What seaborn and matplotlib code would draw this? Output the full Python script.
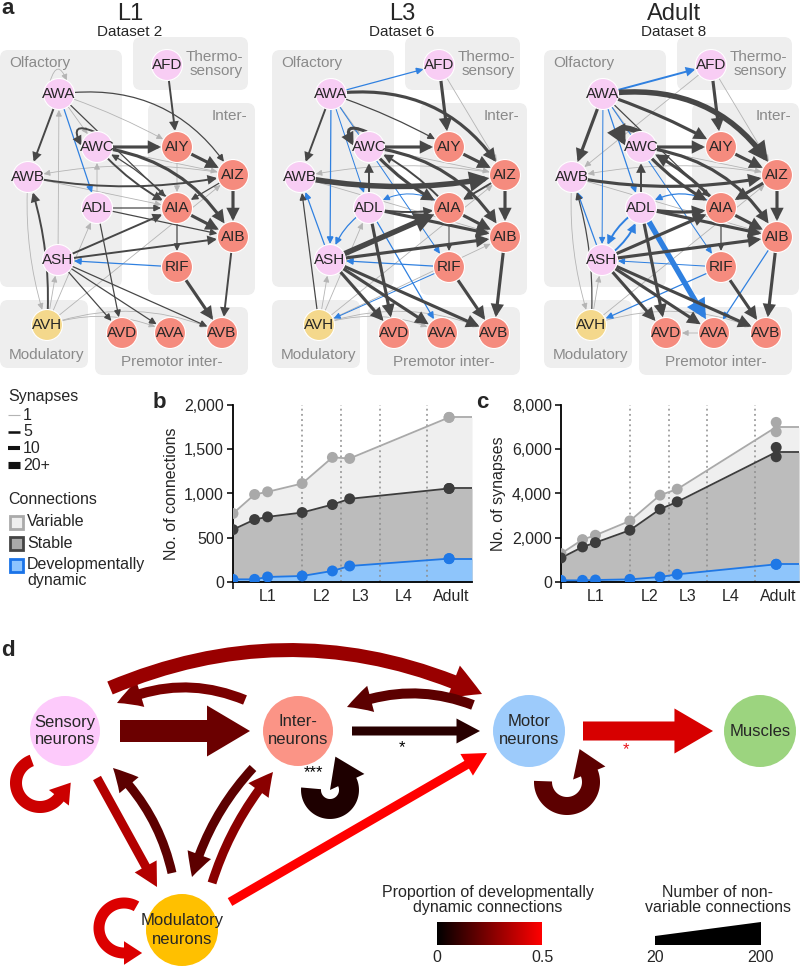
import numpy as np
import pandas as pd
import matplotlib
matplotlib.use("Agg")
import matplotlib.pyplot as plt
import seaborn as sns
from matplotlib.patches import FancyBboxPatch, Circle, FancyArrowPatch, Polygon, Rectangle
from matplotlib.colors import LinearSegmentedColormap, Normalize
from matplotlib.ticker import FuncFormatter

sns.set_theme(style="ticks")
plt.rcParams["font.family"] = ["Liberation Sans", "DejaVu Sans"]

# ======================= DATA =======================
# ---- panels b, c : datasets 1-8 (age in hours after birth) ----
DATASET_AGE_H = [0, 5, 8, 16, 23, 27, 50, 50]
CONN_VARIABLE = [774, 989, 1019, 1113, 1408, 1396, 1860, 1860]
CONN_STABLE = [592, 706, 736, 785, 875, 940, 1057, 1057]
CONN_DYNAMIC = [30, 30, 57, 68, 125, 181, 264, 264]
SYN_VARIABLE = [1283, 1917, 2113, 2762, 3925, 4196, 7215, 6792]
SYN_STABLE = [1087, 1585, 1781, 2340, 3291, 3623, 6083, 5660]
SYN_DYNAMIC = [75, 75, 90, 120, 226, 347, 800, 800]
STAGE_BOUNDARIES_H = [16, 25, 34, 45]
STAGE_LABELS = ["L1", "L2", "L3", "L4", "Adult"]
STAGE_LABEL_AT_H = [8, 20.5, 29.5, 39.5, 50.5]
X_END_H = 55.3

# ---- panel a ----
PANEL_A_TITLES = ["L1", "L3", "Adult"]
PANEL_A_DATASETS = ["Dataset 2", "Dataset 6", "Dataset 8"]
NEURONS = ["AFD", "AWA", "AWC", "AWB", "ADL", "ASH", "AIY", "AIZ", "AIA",
           "AIB", "RIF", "AVH", "AVD", "AVA", "AVB"]
NEURON_CLASS = {"AFD": "sens", "AWA": "sens", "AWC": "sens", "AWB": "sens",
                "ADL": "sens", "ASH": "sens", "AIY": "inter", "AIZ": "inter",
                "AIA": "inter", "AIB": "inter", "RIF": "inter", "AVH": "mod",
                "AVD": "inter", "AVA": "inter", "AVB": "inter"}
GROUP_NAMES = ["Olfactory", "Thermo-\nsensory", "Inter-", "Modulatory", "Premotor inter-"]
SYNAPSE_LEGEND = [1, 5, 10, 20]
SYNAPSE_LEGEND_TEXT = ["1", "5", "10", "20+"]
CONNECTION_TYPES = ["Variable", "Stable", "Developmentally\ndynamic"]

# (pre, post, synapses, class)  class: v=variable, s=stable, d=developmentally dynamic
EDGES_L1 = [
    ("AFD", "AIY", 5, "s"), ("AWA", "AWA", 1, "v"), ("AWA", "AWB", 5, "s"),
    ("AWA", "AWC", 1, "v"), ("AWA", "ADL", 2, "d"), ("AWA", "AIY", 1, "v"),
    ("AWA", "AIZ", 2, "s"), ("AWA", "AIA", 2, "s"), ("AWC", "AWC", 5, "s"),
    ("AWC", "AIY", 10, "s"), ("AWC", "AIZ", 1, "v"), ("AWC", "AIA", 5, "s"),
    ("AIA", "AWC", 2, "s"), ("AWC", "AIB", 10, "s"), ("ADL", "AWC", 1, "v"),
    ("AWB", "AIZ", 5, "s"), ("AIZ", "AWB", 1, "v"), ("AWB", "AIA", 1, "v"),
    ("AIY", "AIZ", 10, "s"), ("AIY", "AIA", 1, "v"), ("AIZ", "AIB", 10, "s"),
    ("AIZ", "AIA", 2, "s"), ("ADL", "AIA", 2, "s"), ("ADL", "AIB", 2, "s"),
    ("ADL", "AVD", 2, "s"), ("AIA", "AIB", 10, "s"), ("AIA", "RIF", 2, "s"),
    ("ASH", "AWA", 1, "v"), ("ASH", "AIA", 5, "s"), ("ASH", "AIB", 5, "s"),
    ("RIF", "ASH", 2, "d"), ("RIF", "AVB", 10, "s"), ("AIB", "AVB", 5, "s"),
    ("ASH", "AVD", 2, "s"), ("ASH", "AVA", 2, "s"), ("ASH", "AVB", 2, "s"),
    ("AVH", "AWB", 5, "s"), ("AWB", "AVH", 1, "v"), ("AVH", "ASH", 1, "v"),
    ("AVH", "ADL", 1, "v"), ("AVH", "AIZ", 1, "v"), ("AVH", "AVA", 1, "v"),
    ("AVH", "AVB", 1, "v"),
]
EDGES_L3 = [
    ("AWA", "AFD", 2, "d"), ("AFD", "AIY", 10, "s"), ("AFD", "AIZ", 1, "v"),
    ("AWA", "AWB", 5, "s"), ("AWA", "AWC", 1, "v"), ("AWA", "ADL", 1, "d"),
    ("AWA", "ASH", 2, "d"), ("AWA", "RIF", 1, "d"), ("AWA", "AIY", 2, "s"),
    ("AWA", "AIZ", 10, "s"), ("AWC", "AWC", 10, "s"), ("AWC", "AIY", 10, "s"),
    ("AWC", "AIZ", 1, "v"), ("AWC", "AIA", 10, "s"), ("AIA", "AWC", 5, "s"),
    ("AWC", "AIB", 10, "s"), ("ADL", "AWC", 5, "s"), ("AWB", "AIZ", 20, "s"),
    ("AIZ", "AWB", 1, "v"), ("AWB", "AIB", 1, "v"), ("AIY", "AIZ", 10, "s"),
    ("AIZ", "AIB", 10, "s"), ("AIZ", "AIA", 5, "s"), ("ADL", "AIA", 5, "s"),
    ("AIA", "ADL", 1, "d"), ("ADL", "AIB", 10, "s"), ("ADL", "AVD", 10, "s"),
    ("ADL", "AVA", 2, "d"), ("ADL", "ASH", 2, "d"), ("AIA", "AIB", 10, "s"),
    ("AIA", "RIF", 1, "s"), ("ASH", "AIA", 20, "s"), ("ASH", "AIB", 10, "s"),
    ("ASH", "AWB", 2, "d"), ("RIF", "ASH", 2, "d"), ("RIF", "AVH", 1, "d"),
    ("RIF", "AVB", 10, "s"), ("AIB", "AVB", 10, "s"), ("ASH", "AVD", 10, "s"),
    ("ASH", "AVA", 10, "s"), ("ASH", "AVB", 10, "s"), ("AVH", "AWB", 2, "s"),
    ("AVH", "ASH", 1, "v"), ("AVH", "ADL", 1, "v"), ("AVH", "AIZ", 1, "v"),
    ("AVH", "AIB", 1, "v"), ("AVH", "AVA", 1, "v"), ("AVH", "AVB", 1, "v"),
]
EDGES_ADULT = [
    ("AWA", "AFD", 5, "d"), ("AFD", "AIY", 10, "s"), ("AFD", "AWB", 1, "v"),
    ("AFD", "AIZ", 1, "v"), ("AWA", "AWB", 10, "s"), ("AWA", "AWC", 1, "v"),
    ("AWA", "ADL", 2, "d"), ("AWA", "ASH", 1, "d"), ("AWA", "RIF", 1, "d"),
    ("AWA", "AIY", 10, "s"), ("AWA", "AIZ", 20, "s"), ("AWA", "AIA", 2, "s"),
    ("AWC", "AWC", 20, "s"), ("AWC", "AIY", 10, "s"), ("AWC", "AIZ", 1, "v"),
    ("AWC", "AIA", 10, "s"), ("AIA", "AWC", 10, "s"), ("AWC", "AIB", 10, "s"),
    ("ADL", "AWC", 5, "s"), ("AWB", "AIZ", 10, "s"), ("AIZ", "AWB", 1, "v"),
    ("AWB", "AIB", 1, "v"), ("AIY", "AIZ", 10, "s"), ("AIZ", "AIB", 10, "s"),
    ("AIZ", "AIA", 10, "s"), ("ADL", "AIA", 10, "s"), ("AIA", "ADL", 2, "d"),
    ("ADL", "AIB", 10, "s"), ("ADL", "AVD", 10, "s"), ("ADL", "AVA", 20, "d"),
    ("ADL", "ASH", 5, "d"), ("ASH", "ADL", 5, "d"), ("AIA", "AIB", 10, "s"),
    ("AIA", "RIF", 2, "s"), ("ASH", "AIA", 10, "s"), ("ASH", "AIB", 10, "s"),
    ("ASH", "AWB", 2, "d"), ("RIF", "ASH", 1, "d"), ("RIF", "AVH", 2, "d"),
    ("AIB", "AVA", 2, "d"), ("RIF", "AVB", 10, "s"), ("AIB", "AVB", 10, "s"),
    ("ASH", "AVD", 10, "s"), ("ASH", "AVA", 10, "s"), ("ASH", "AVB", 10, "s"),
    ("AVH", "AWB", 2, "s"), ("AWB", "AVH", 1, "v"), ("AVH", "ASH", 1, "v"),
    ("AVH", "AIZ", 1, "v"), ("AVH", "AVB", 1, "v"), ("AVA", "AVD", 1, "v"),
]
PANEL_A_EDGES = [EDGES_L1, EDGES_L3, EDGES_ADULT]

# ---- panel d ----
D_NODES = ["Sensory", "Inter", "Motor", "Muscles", "Modulatory"]
D_NODE_TEXT = ["Sensory\nneurons", "Inter-\nneurons", "Motor\nneurons", "Muscles",
               "Modulatory\nneurons"]
D_SRC = ["Sensory", "Inter", "Motor", "Inter", "Sensory", "Motor", "Inter", "Motor",
         "Sensory", "Sensory", "Modulatory", "Inter", "Modulatory", "Modulatory", "Modulatory"]
D_DST = ["Inter", "Motor", "Muscles", "Sensory", "Motor", "Inter", "Inter", "Motor",
         "Sensory", "Modulatory", "Sensory", "Modulatory", "Inter", "Motor", "Modulatory"]
D_DYNAMIC_FRACTION = [0.21, 0.08, 0.42, 0.24, 0.30, 0.18, 0.06, 0.18,
                      0.40, 0.35, 0.18, 0.18, 0.27, 0.50, 0.43]
D_NONVARIABLE_COUNT = [187, 20, 149, 33, 84, 33, 161, 136,
                       59, 20, 20, 20, 20, 20, 46]
D_SIGNIFICANCE = {("Inter", "Motor"): "*", ("Inter", "Inter"): "***", ("Motor", "Muscles"): "*"}

# ======================= LAYOUT / STYLE =======================
W, H = 800, 968
fig = plt.figure(figsize=(W / 100, H / 100), dpi=100)
ax = fig.add_axes([0, 0, 1, 1])
ax.set_xlim(0, W)
ax.set_ylim(H, 0)
ax.axis("off")

# panel a layout (pixels inside one network)
LAYOUT_A = {"AFD": (167, 65), "AWA": (59, 94), "AWC": (97, 147), "AWB": (28, 177),
            "ADL": (97, 208), "ASH": (58, 260), "AIY": (177, 147), "AIZ": (233, 175),
            "AIA": (177, 208), "AIB": (233, 237), "RIF": (177, 267), "AVH": (47, 325),
            "AVD": (122, 333), "AVA": (170, 333), "AVB": (222, 333)}
GROUP_BOXES = [(0, 50, 122, 287), (133, 37, 248, 90), (148, 103, 255, 295),
               (0, 300, 88, 368), (95, 307, 248, 375)]
GROUP_LABEL_AT = [((9, 63), "left"), ((243, 64), "right"), ((247, 116), "right"),
                  ((46, 355), "center"), ((172, 362), "center")]
PANEL_OFFSETS = [0, 272, 544]
NODE_R = 15.5
NODE_FC = {"sens": "#f8cdf4", "inter": "#f58b7e", "mod": "#f4d88c"}
EDGE_COLOR = {"v": "#b4b4b4", "s": "#474747", "d": "#2f80e0"}
EDGE_Z = {"v": 1.5, "d": 2.1, "s": 2.2}
CURVE_A = {("AWA", "AIZ"): -0.32, ("AWC", "AIB"): -0.25, ("AIA", "ADL"): 0.35,
           ("ADL", "ASH"): 0.2, ("ASH", "ADL"): 0.2, ("AVH", "AVA"): -0.2,
           ("AVH", "AVB"): -0.2, ("AWA", "AIY"): -0.05}
LOOP_ANGLES = {"AWA": (125, 60), "AWC": (100, 175)}


def syn_lw(n):
    return 0.55 + 0.17 * min(n, 20)


def edge_patch(pA, pB, lw, color, rad, shA, shB, z):
    hl = 3.0 + 1.3 * lw
    hw = 1.4 + 0.7 * lw
    return FancyArrowPatch(pA, pB, arrowstyle=f"-|>,head_length={hl},head_width={hw}",
                           connectionstyle=f"arc3,rad={rad}", mutation_scale=1,
                           shrinkA=shA, shrinkB=shB, lw=lw, color=color, zorder=z,
                           joinstyle="miter")


def draw_network(x0, edges, title, dataset):
    ax.text(x0 + 130, 14, title, ha="center", va="center", fontsize=17)
    ax.text(x0 + 130, 32, dataset, ha="center", va="center", fontsize=11)
    for (bx0, by0, bx1, by1), name, ((lx, ly), ha) in zip(GROUP_BOXES, GROUP_NAMES, GROUP_LABEL_AT):
        ax.add_patch(FancyBboxPatch((x0 + bx0, by0), bx1 - bx0, by1 - by0,
                                    boxstyle="round,pad=0,rounding_size=8",
                                    fc="#eeeeee", ec="none", zorder=0))
        ax.text(x0 + lx, ly, name, ha=ha, va="center", fontsize=11, color="#8a8a8a",
                linespacing=0.95, zorder=0.5)
    pos = {n: (x0 + LAYOUT_A[n][0], LAYOUT_A[n][1]) for n in NEURONS}
    pairs = {(s, d) for s, d, _, _ in edges}
    for s, d, n, cls in edges:
        lw = 0.6 if cls == "v" else syn_lw(n)
        col = EDGE_COLOR[cls]
        if s == d:
            cx, cy = pos[s]
            a1, a2 = np.radians(LOOP_ANGLES[s])
            pA = (cx + NODE_R * np.cos(a1), cy - NODE_R * np.sin(a1))
            pB = (cx + NODE_R * np.cos(a2), cy - NODE_R * np.sin(a2))
            dx, dy = pB[0] - pA[0], -(pB[1] - pA[1])
            mx, my = (pA[0] + pB[0]) / 2 - cx, -((pA[1] + pB[1]) / 2 - cy)
            sgn = np.sign(dy * mx - dx * my) or 1
            ax.add_patch(edge_patch(pA, pB, lw, col, 1.4 * sgn, 0, 0, EDGE_Z[cls]))
        else:
            rad = CURVE_A.get((s, d), 0.1 if (d, s) in pairs else 0.0)
            ax.add_patch(edge_patch(pos[s], pos[d], lw, col, rad, 10.5, 11.5, EDGE_Z[cls]))
    for nme in NEURONS:
        ax.add_patch(Circle(pos[nme], NODE_R, fc=NODE_FC[NEURON_CLASS[nme]], ec="white",
                            lw=0.8, zorder=3))
        ax.text(*pos[nme], nme, ha="center", va="center", fontsize=11, zorder=4)


ax.text(1, 9, "a", fontsize=16, fontweight="bold", ha="left", va="center")
for x0, edges, t, ds in zip(PANEL_OFFSETS, PANEL_A_EDGES, PANEL_A_TITLES, PANEL_A_DATASETS):
    draw_network(x0, edges, t, ds)

# ---- legend (synapses / connections) ----
ax.text(8, 396, "Synapses", fontsize=11.5, va="center", ha="left")
for i, (n, txt) in enumerate(zip(SYNAPSE_LEGEND, SYNAPSE_LEGEND_TEXT)):
    y = 415 + i * 16.7
    ax.plot([8, 20], [y, y], color="#b4b4b4" if n == 1 else "#111111",
            lw=0.8 if n == 1 else syn_lw(n) * 1.3, solid_capstyle="butt")
    ax.text(23, y, txt, fontsize=11.5, va="center", ha="left")
ax.text(8, 500, "Connections", fontsize=11.5, va="center", ha="left")
LEG_SQ = [("#aaaaaa", "#eeeeee"), ("#444444", "#aaaaaa"), ("#1a73e8", "#8cc4ff")]
for i, (txt, (ec, fc)) in enumerate(zip(CONNECTION_TYPES, LEG_SQ)):
    y = 522 + i * 21.5
    ax.add_patch(Rectangle((9.5, y - 6.5), 13, 13, fc=fc, ec=ec, lw=2))
    if "\n" in txt:
        ax.text(27, y - 8.5, txt, fontsize=11.5, va="top", ha="left", linespacing=1.15)
    else:
        ax.text(27, y, txt, fontsize=11.5, va="center", ha="left")

# ======================= panels b, c =======================
PAL = {"Variable": "#a9a9a9", "Stable": "#3d3d3d", "Dynamic": "#1f78e6"}
FILL = {"Variable": "#efefef", "Stable": "#bcbcbc", "Dynamic": "#8ec5fb"}
ORDER = ["Variable", "Stable", "Dynamic"]


def timeline(axp, variable, stable, dynamic, ymax, ystep, ylabel):
    n = len(DATASET_AGE_H)
    df = pd.DataFrame({"age": DATASET_AGE_H * 3,
                       "value": variable + stable + dynamic,
                       "cls": ["Variable"] * n + ["Stable"] * n + ["Dynamic"] * n})
    means = df.groupby(["cls", "age"])["value"].mean()
    axp.set_xlim(0, X_END_H)
    axp.set_ylim(0, ymax)
    for c in ORDER:
        s = means[c]
        xs = list(s.index) + [X_END_H]
        ys = list(s.values) + [s.values[-1]]
        axp.fill_between(xs, 0, ys, color=FILL[c], lw=0, zorder=1)
    for xb in STAGE_BOUNDARIES_H:
        axp.axvline(xb, color="#8c8c8c", ls=(0, (1.2, 2.2)), lw=1.1, zorder=2)
    sns.lineplot(data=df, x="age", y="value", hue="cls", hue_order=ORDER, palette=PAL,
                 estimator="mean", errorbar=None, legend=False, lw=1.3, ax=axp, zorder=3)
    for c in ORDER:
        s = means[c]
        axp.plot([s.index[-1], X_END_H], [s.values[-1]] * 2, color=PAL[c], lw=1.3, zorder=3)
    sns.scatterplot(data=df, x="age", y="value", hue="cls", hue_order=ORDER, palette=PAL,
                    s=62, edgecolor="none", legend=False, ax=axp, zorder=4)
    sns.despine(ax=axp)
    for sp in ("left", "bottom"):
        axp.spines[sp].set_linewidth(1.3)
        axp.spines[sp].set_color("black")
    axp.set_yticks(np.arange(0, ymax + 1, ystep))
    axp.yaxis.set_major_formatter(FuncFormatter(lambda v, p: f"{v:,.0f}"))
    axp.set_xticks(STAGE_LABEL_AT_H)
    axp.set_xticklabels(STAGE_LABELS)
    axp.set_xticks([0], minor=True)
    axp.tick_params(axis="x", which="major", length=0, pad=5, labelsize=11.5)
    axp.tick_params(axis="x", which="minor", length=5, width=1.3, direction="out")
    axp.tick_params(axis="y", length=4.5, width=1.3, direction="out", pad=2, labelsize=11.5)
    axp.set_xlabel("")
    axp.set_ylabel(ylabel, fontsize=11.5, labelpad=4)
    axp.set_facecolor("white")
    axp.patch.set_alpha(0)


top, bot = 405, 582
bax = fig.add_axes([233 / W, 1 - bot / H, (472 - 233) / W, (bot - top) / H])
cax = fig.add_axes([561 / W, 1 - bot / H, (799 - 561) / W, (bot - top) / H])
timeline(bax, CONN_VARIABLE, CONN_STABLE, CONN_DYNAMIC, 2000, 500, "No. of connections")
timeline(cax, SYN_VARIABLE, SYN_STABLE, SYN_DYNAMIC, 8000, 2000, "No. of synapses")
ax.text(153, 402, "b", fontsize=16, fontweight="bold", ha="left", va="center")
ax.text(476, 402, "c", fontsize=16, fontweight="bold", ha="left", va="center")

# ======================= panel d =======================
ax.text(1, 650, "d", fontsize=16, fontweight="bold", ha="left", va="center")
D_POS = {"Sensory": (65, 731), "Inter": (298, 731), "Motor": (529, 731),
         "Muscles": (760, 731), "Modulatory": (182, 930)}
D_R = {"Sensory": 35, "Inter": 35, "Motor": 36, "Muscles": 36, "Modulatory": 36}
D_FC = {"Sensory": "#fdcafb", "Inter": "#fb9486", "Motor": "#9dcbfb",
        "Muscles": "#9cd47f", "Modulatory": "#ffc000"}
# geometry for each arrow: ("arc", start, end, rad) or ("loop", centre, radius, th1, th2)
D_GEOM = [("arc", (120, 731), (250, 731), 0.0), ("arc", (352, 731), (480, 731), 0.0),
          ("arc", (583, 731), (713, 731), 0.0), ("arc", (245, 700), (117, 703), 0.22),
          ("arc", (110, 688), (482, 694), -0.22), ("arc", (473, 705), (347, 707), 0.2),
          ("loop", (330, 790), 19, 175, 385), ("loop", (567, 782), 24, 178, 382),
          ("loop", (40, 783), 24, 110, 322), ("arc", (97, 778), (157, 887), 0.0),
          ("arc", (172, 873), (113, 768), 0.15), ("arc", (253, 768), (192, 877), 0.12),
          ("arc", (212, 883), (273, 772), -0.1), ("arc", (230, 902), (487, 753), 0.0),
          ("loop", (124, 928), 25, 60, 270)]
D_STAR_AT = {("Inter", "Motor"): ((402, 748), "black"),
             ("Inter", "Inter"): ((313, 773), "black"),
             ("Motor", "Muscles"): ((626, 750), "#e8141b")}

dcmap = LinearSegmentedColormap.from_list("devdyn", ["#000000", "#ff0000"])
dnorm = Normalize(0, 0.5)


def count_width(c):  # pixels, matches the wedge legend (20 -> 9 px, 200 -> 23 px)
    return 9 + (c - 20) / 180 * 14


def loop_arrow(cx, cy, r, w, th1, th2, color, hw, hl):
    th = np.radians(np.linspace(th1, th2, 80))
    outer = np.c_[cx + (r + w / 2) * np.cos(th), cy - (r + w / 2) * np.sin(th)]
    inner = np.c_[cx + (r - w / 2) * np.cos(th), cy - (r - w / 2) * np.sin(th)]
    t = np.radians(th2)
    radial = np.array([np.cos(t), -np.sin(t)])
    tang = np.array([-np.sin(t), -np.cos(t)])
    base = np.array([cx + r * np.cos(t), cy - r * np.sin(t)])
    head = [base + radial * hw / 2, base + tang * hl, base - radial * hw / 2]
    pts = np.vstack([outer, head, inner[::-1]])
    ax.add_patch(Polygon(pts, closed=True, fc=color, ec="none", zorder=2))


for s, d, frac, cnt, geom in zip(D_SRC, D_DST, D_DYNAMIC_FRACTION, D_NONVARIABLE_COUNT, D_GEOM):
    col = dcmap(dnorm(frac))
    w = count_width(cnt)
    if geom[0] == "arc":
        _, pA, pB, rad = geom
        hw, hl = 2 * w + 7, 1.5 * w + 10
        ax.add_patch(FancyArrowPatch(pA, pB, arrowstyle=f"simple,head_length={hl},head_width={hw},tail_width={w}",
                                     connectionstyle=f"arc3,rad={rad}", mutation_scale=0.72,
                                     shrinkA=0, shrinkB=0, lw=0, color=col, zorder=2))
    else:
        _, (cx, cy), r, t1, t2 = geom
        loop_arrow(cx, cy, r, w, t1, t2, col, 1.6 * w + 6, 1.1 * w + 6)
    if (s, d) in D_SIGNIFICANCE:
        (sx, sy), scol = D_STAR_AT[(s, d)]
        ax.text(sx, sy, D_SIGNIFICANCE[(s, d)], ha="center", va="center", fontsize=12,
                color=scol, zorder=5)

for nme, txt in zip(D_NODES, D_NODE_TEXT):
    ax.add_patch(Circle(D_POS[nme], D_R[nme], fc=D_FC[nme], ec="none", zorder=3))
    ax.text(*D_POS[nme], txt, ha="center", va="center", fontsize=12, linespacing=1.25,
            zorder=4)

# legends of panel d
ax.text(488, 900, "Proportion of developmentally\ndynamic connections", ha="center",
        va="center", fontsize=11.5, linespacing=1.05)
ax.imshow(np.linspace(0, 0.5, 256)[None, :], cmap=dcmap, norm=dnorm,
          extent=(437, 542, 945, 922), aspect="auto", zorder=3)
ax.text(437, 958, "0", ha="center", va="center", fontsize=11.5)
ax.text(542, 958, "0.5", ha="center", va="center", fontsize=11.5)
ax.text(718, 900, "Number of non-\nvariable connections", ha="center", va="center",
        fontsize=11.5, linespacing=1.05)
CNT_LEG = [20, 200]
ax.add_patch(Polygon([(655, 945), (761, 945), (761, 945 - count_width(CNT_LEG[1])),
                      (655, 945 - count_width(CNT_LEG[0]))], closed=True, fc="black",
                     ec="none"))
ax.text(655, 958, str(CNT_LEG[0]), ha="center", va="center", fontsize=11.5)
ax.text(761, 958, str(CNT_LEG[1]), ha="center", va="center", fontsize=11.5)
ax.set_xlim(0, W)
ax.set_ylim(H, 0)

fig.savefig("out.png", dpi=100)
